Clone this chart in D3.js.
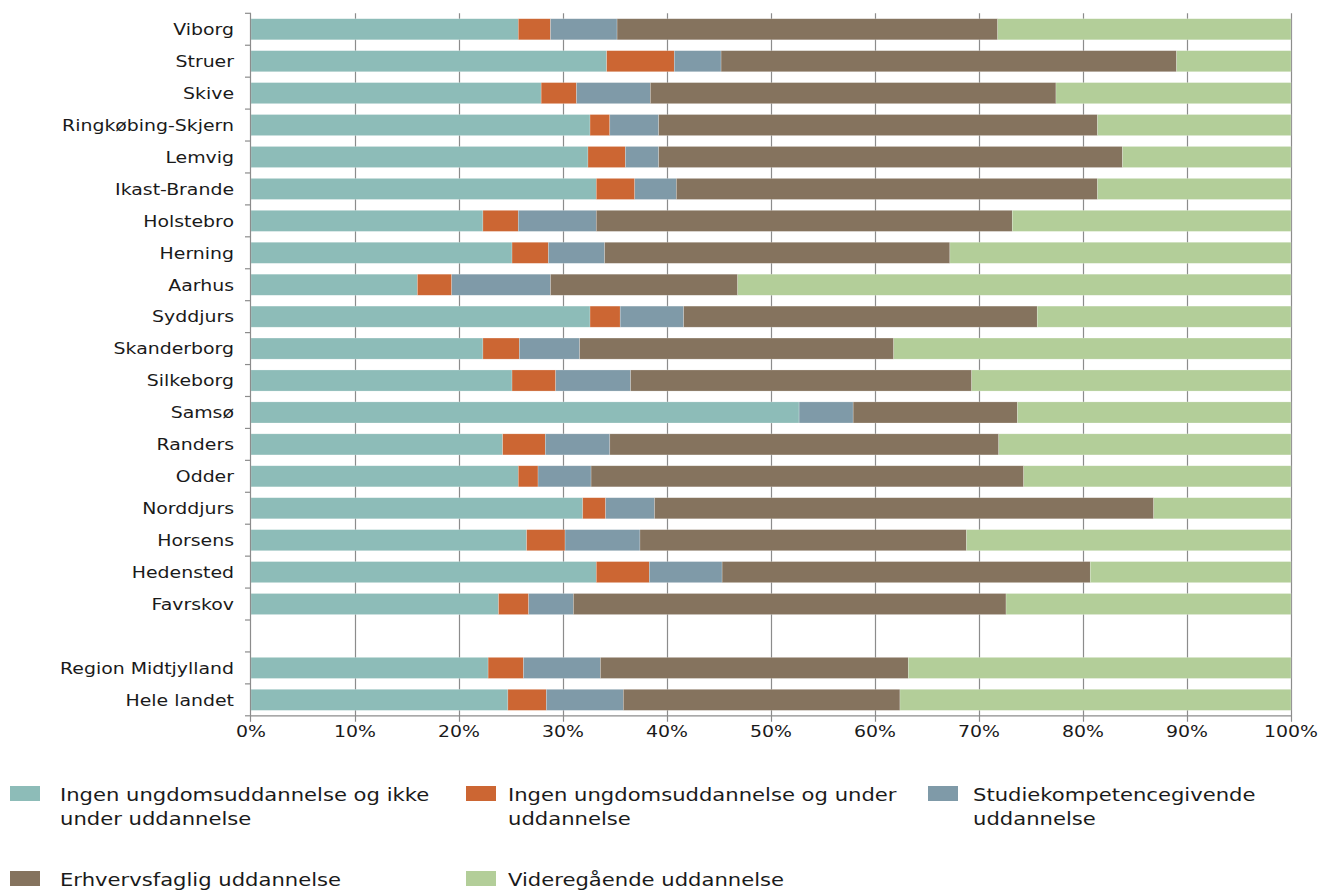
<!DOCTYPE html>
<html>
<head>
<meta charset="utf-8">
<script src="https://cdn.jsdelivr.net/npm/d3@7"></script>
<style>
  html, body { margin: 0; padding: 0; background: #fff; }
  svg { display: block; }
  text { font-family: "DejaVu Sans", Verdana, sans-serif; fill: #1a1a1a; }
</style>
</head>
<body>
<svg id="chart" width="1321" height="891"></svg>
<script>
// Categories (top to bottom); "" is the empty spacer slot
const categories = ["Viborg","Struer","Skive","Ringkøbing-Skjern","Lemvig","Ikast-Brande","Holstebro","Herning","Aarhus","Syddjurs","Skanderborg","Silkeborg","Samsø","Randers","Odder","Norddjurs","Horsens","Hedensted","Favrskov","","Region Midtjylland","Hele landet"];

const seriesNames = [
  "Ingen ungdomsuddannelse og ikke under uddannelse",
  "Ingen ungdomsuddannelse og under uddannelse",
  "Studiekompetencegivende uddannelse",
  "Erhvervsfaglig uddannelse",
  "Videregående uddannelse"
];

// Percent values per series, aligned with categories (null = spacer)
const ingenIkkeUnder = [25.7,34.2,27.9,32.6,32.4,33.2,22.3,25.1,16.0,32.6,22.3,25.1,52.7,24.2,25.7,31.9,26.5,33.2,23.8,null,22.8,24.7];
const ingenUnder     = [3.1,6.5,3.4,1.9,3.6,3.7,3.4,3.5,3.3,2.9,3.5,4.2,0.0,4.1,1.9,2.2,3.7,5.1,2.9,null,3.4,3.7];
const studiekomp     = [6.4,4.5,7.1,4.7,3.2,4.0,7.5,5.4,9.5,6.1,5.8,7.2,5.2,6.2,5.1,4.7,7.2,7.0,4.3,null,7.4,7.4];
const erhvervsfaglig = [36.6,43.8,39.0,42.2,44.6,40.5,40.0,33.2,18.0,34.0,30.2,32.8,15.8,37.4,41.6,48.0,31.4,35.4,41.6,null,29.6,26.6];
const videregaaende  = [28.2,11.0,22.6,18.6,16.2,18.6,26.8,32.8,53.2,24.4,38.2,30.7,26.3,28.1,25.7,13.2,31.2,19.3,27.4,null,36.8,37.6];

const xTicks = [0,10,20,30,40,50,60,70,80,90,100];
const xTickLabels = ["0%","10%","20%","30%","40%","50%","60%","70%","80%","90%","100%"];

const colors = ["#8dbcb8","#cc6633","#7f9aa8","#85735e","#b3ce99"];

const seriesData = [ingenIkkeUnder, ingenUnder, studiekomp, erhvervsfaglig, videregaaende];
const keys = ["s0","s1","s2","s3","s4"];
const rows = categories.map((c, i) => {
  const r = { key: i, cat: c };
  keys.forEach((k, j) => { r[k] = seriesData[j][i] == null ? 0 : seriesData[j][i]; });
  return r;
});

const svg = d3.select("#chart");
const pLeft = 251, pRight = 1291, pTop = 13.3, pBottom = 715.8;
const wide = 1.145; // horizontal stretch to mimic Verdana widths

const x = d3.scaleLinear().domain([0, 100]).range([pLeft, pRight]);
const y = d3.scaleBand().domain(d3.range(categories.length)).range([pTop, pBottom]).paddingInner(0.34).paddingOuter(0.17);
const yTicksScale = d3.scaleBand().domain(d3.range(categories.length)).range([pTop, pBottom]);

// Gridlines
const gridColor = "#8c8c8c";
svg.append("g").selectAll("line").data(xTicks.slice(1)).join("line")
  .attr("x1", d => Math.round(x(d)) + 0.5).attr("x2", d => Math.round(x(d)) + 0.5)
  .attr("y1", pTop).attr("y2", pBottom + 6)
  .attr("stroke", gridColor).attr("stroke-width", 1.2);

// Bars
const stack = d3.stack().keys(keys);
const stacked = stack(rows);
const barG = svg.append("g");
stacked.forEach((layer, li) => {
  barG.append("g").attr("fill", colors[li]).selectAll("rect")
    .data(layer.filter(d => d.data.cat !== "" && d[1] - d[0] > 0))
    .join("rect")
    .attr("x", d => x(d[0]))
    .attr("width", d => x(d[1]) - x(d[0]))
    .attr("y", d => y(d.data.key))
    .attr("height", y.bandwidth())
    .attr("stroke", "#ffffff").attr("stroke-opacity", 0.35).attr("stroke-width", 0.6);
});

// Left axis line and ticks
svg.append("line").attr("x1", pLeft - 0.5).attr("x2", pLeft - 0.5).attr("y1", pTop).attr("y2", pBottom)
  .attr("stroke", gridColor).attr("stroke-width", 1.2);
svg.append("g").selectAll("line").data(d3.range(categories.length + 1)).join("line")
  .attr("x1", pLeft - 6).attr("x2", pLeft)
  .attr("y1", d => pTop + d * yTicksScale.step()).attr("y2", d => pTop + d * yTicksScale.step())
  .attr("stroke", gridColor).attr("stroke-width", 1.2);

// Bottom axis line and ticks
svg.append("line").attr("x1", pLeft - 0.5).attr("x2", pRight + 0.5).attr("y1", pBottom).attr("y2", pBottom)
  .attr("stroke", gridColor).attr("stroke-width", 1.2);
svg.append("line").attr("x1", pLeft - 0.5).attr("x2", pLeft - 0.5).attr("y1", pBottom).attr("y2", pBottom + 6)
  .attr("stroke", gridColor).attr("stroke-width", 1.2);

// Category labels
svg.append("g").selectAll("text").data(rows.filter(r => r.cat !== "")).join("text")
  .attr("transform", d => `translate(234,${y(d.key) + y.bandwidth() / 2}) scale(${wide},1)`)
  .attr("dy", "0.35em").attr("text-anchor", "end")
  .attr("font-size", 16.5).text(d => d.cat);

// X tick labels
svg.append("g").selectAll("text").data(xTicks).join("text")
  .attr("transform", d => `translate(${x(d)},737) scale(${wide},1)`)
  .attr("text-anchor", "middle").attr("font-size", 16.5)
  .text((d, i) => xTickLabels[i]);

// Legend
const legendItems = [
  { i: 0, sx: 10, tx: 60, row: 0, lines: ["Ingen ungdomsuddannelse og ikke", "under uddannelse"] },
  { i: 1, sx: 466, tx: 508, row: 0, lines: ["Ingen ungdomsuddannelse og under", "uddannelse"] },
  { i: 2, sx: 928, tx: 973, row: 0, lines: ["Studiekompetencegivende", "uddannelse"] },
  { i: 3, sx: 10, tx: 60, row: 1, lines: ["Erhvervsfaglig uddannelse"] },
  { i: 4, sx: 466, tx: 508, row: 1, lines: ["Videregående uddannelse"] }
];
const rowY = [786, 871];
const lg = svg.append("g");
legendItems.forEach(it => {
  lg.append("rect").attr("x", it.sx).attr("y", rowY[it.row]).attr("width", 30).attr("height", 15)
    .attr("fill", colors[it.i]);
  const t = lg.append("text")
    .attr("transform", `translate(${it.tx},${rowY[it.row] + 14.7}) scale(1.155,1)`)
    .attr("font-size", 18.3);
  it.lines.forEach((ln, k) => {
    t.append("tspan").attr("x", 0).attr("dy", k === 0 ? 0 : 24.3).text(ln);
  });
});
</script>
</body>
</html>
